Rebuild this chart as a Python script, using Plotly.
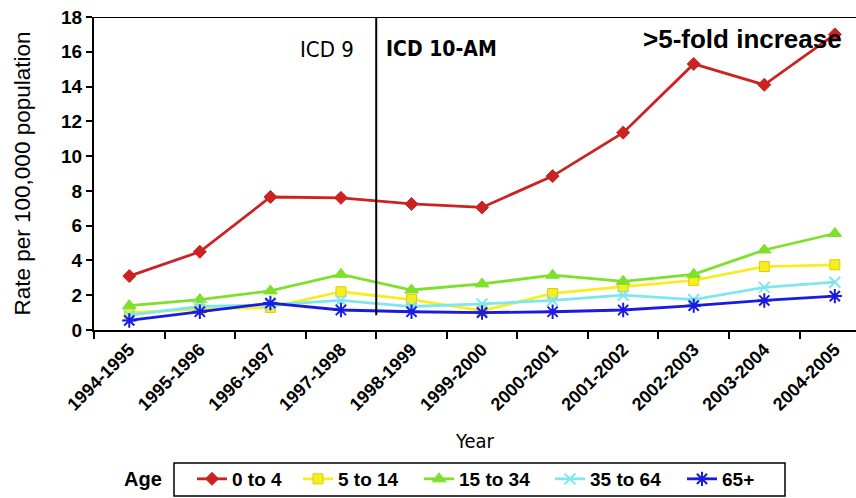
import plotly.graph_objects as go

years = ["1994-1995", "1995-1996", "1996-1997", "1997-1998", "1998-1999", "1999-2000",
         "2000-2001", "2001-2002", "2002-2003", "2003-2004", "2004-2005"]
age_0_4 = [3.1, 4.5, 7.65, 7.6, 7.25, 7.05, 8.85, 11.35, 15.3, 14.1, 17.0]
age_5_14 = [1.0, 1.2, 1.3, 2.2, 1.75, 1.1, 2.1, 2.5, 2.85, 3.65, 3.75]
age_15_34 = [1.4, 1.75, 2.25, 3.2, 2.3, 2.65, 3.15, 2.8, 3.2, 4.6, 5.55]
age_35_64 = [0.85, 1.35, 1.45, 1.7, 1.35, 1.5, 1.7, 2.0, 1.75, 2.45, 2.75]
age_65 = [0.55, 1.05, 1.55, 1.15, 1.05, 1.0, 1.05, 1.15, 1.4, 1.7, 1.95]

series = [
    ("0 to 4", age_0_4, "#cc2222", "diamond", 10, None),
    ("5 to 14", age_5_14, "#f4ee22", "square", 10, "#e8c800"),
    ("15 to 34", age_15_34, "#7ee02c", "triangle-up", 12, None),
    ("35 to 64", age_35_64, "#7fe6ee", "x-thin-open", 11, "#a8b8bc"),
    ("65+", age_65, "#1a1ae0", "asterisk-open", 12, None),
]

# left pixel of each legend entry's text in the reference
W, L, R = 856, 94, 856
PW = R - L
text_px = [234, 340, 461, 592, 724]

fig = go.Figure()
legend_names = ["legend", "legend2", "legend3", "legend4", "legend5"]
for (name, vals, col, sym, sz, edge), lg in zip(series, legend_names):
    mk = dict(symbol=sym, size=sz, color=col)
    mk["line"] = dict(color=edge or col, width=2 if sym.endswith("open") else 1)
    fig.add_trace(go.Scatter(x=years, y=vals, name=name, mode="lines+markers",
                             line=dict(color=col, width=2.8), marker=mk, legend=lg))

narrow = "DejaVu Sans Condensed, Liberation Sans"
arial = "Liberation Sans, Arial"
legend_common = dict(orientation="h", yanchor="middle", y=-0.476, xanchor="left",
                     bgcolor="rgba(0,0,0,0)", borderwidth=0, itemwidth=30,
                     font=dict(family=arial, size=19, color="black", weight="bold"))
layout_legends = {}
for lg, tx in zip(legend_names, text_px):
    layout_legends[lg] = dict(legend_common, x=(tx - 42 - L) / PW)

fig.update_layout(
    width=W, height=498,
    margin=dict(l=L, r=0, t=17, b=168),
    plot_bgcolor="white", paper_bgcolor="white",
    font=dict(family=arial, color="black"),
    showlegend=True,
    xaxis=dict(type="category", range=[-0.5, 10.3], showline=True, linecolor="black",
               linewidth=2, ticks="outside", tickson="boundaries", ticklen=7,
               tickcolor="black", tickwidth=2, tickangle=-45, showgrid=False,
               automargin=False,
               tickfont=dict(family=arial, size=18, color="black", weight="bold"),
               title=dict(text="Year", font=dict(family=narrow, size=20), standoff=20)),
    yaxis=dict(range=[0, 18], dtick=2, showline=True, linecolor="black", linewidth=2,
               ticks="outside", ticklen=6, tickcolor="black", tickwidth=2, showgrid=False,
               zeroline=False, automargin=False,
               tickfont=dict(family=arial, size=19, weight="bold"),
               title=dict(text="Rate per 100,000 population", font=dict(size=22.5), standoff=24)),
    **layout_legends,
)

# legend frame
fig.add_shape(type="rect", xref="paper", yref="paper",
              x0=(174 - L) / PW, x1=(785 - L) / PW,
              y0=(330 - 463) / 313, y1=(330 - 496) / 313,
              line=dict(color="black", width=1.5), fillcolor="rgba(0,0,0,0)", layer="below")
fig.add_shape(type="line", xref="paper", yref="y", x0=0, x1=1, y0=18, y1=18,
              line=dict(color="black", width=2))
fig.add_shape(type="line", xref="x", yref="y", x0=3.5, x1=3.5, y0=0.85, y1=18,
              line=dict(color="black", width=2))

fig.add_annotation(x=2.8, y=16.15, xref="x", yref="y", text="ICD 9", showarrow=False,
                   font=dict(family=narrow, size=22, color="black"))
fig.add_annotation(x=4.42, y=16.15, xref="x", yref="y", text="ICD 10-AM", showarrow=False,
                   font=dict(family=narrow, size=21, color="black", weight="bold"))
fig.add_annotation(x=(844 - L) / PW, y=16.75, xref="paper", yref="y", xanchor="right",
                   text=">5-fold increase", showarrow=False,
                   font=dict(family=arial, size=26, color="black", weight="bold"))
fig.add_annotation(x=(143 - L) / PW, y=-0.476, xref="paper", yref="paper",
                   xanchor="center", yanchor="middle", text="Age", showarrow=False,
                   font=dict(family=arial, size=20, color="black", weight="bold"))

fig.write_html("out.html", config={"displayModeBar": False},
               post_script="document.body.style.margin='0px';")
